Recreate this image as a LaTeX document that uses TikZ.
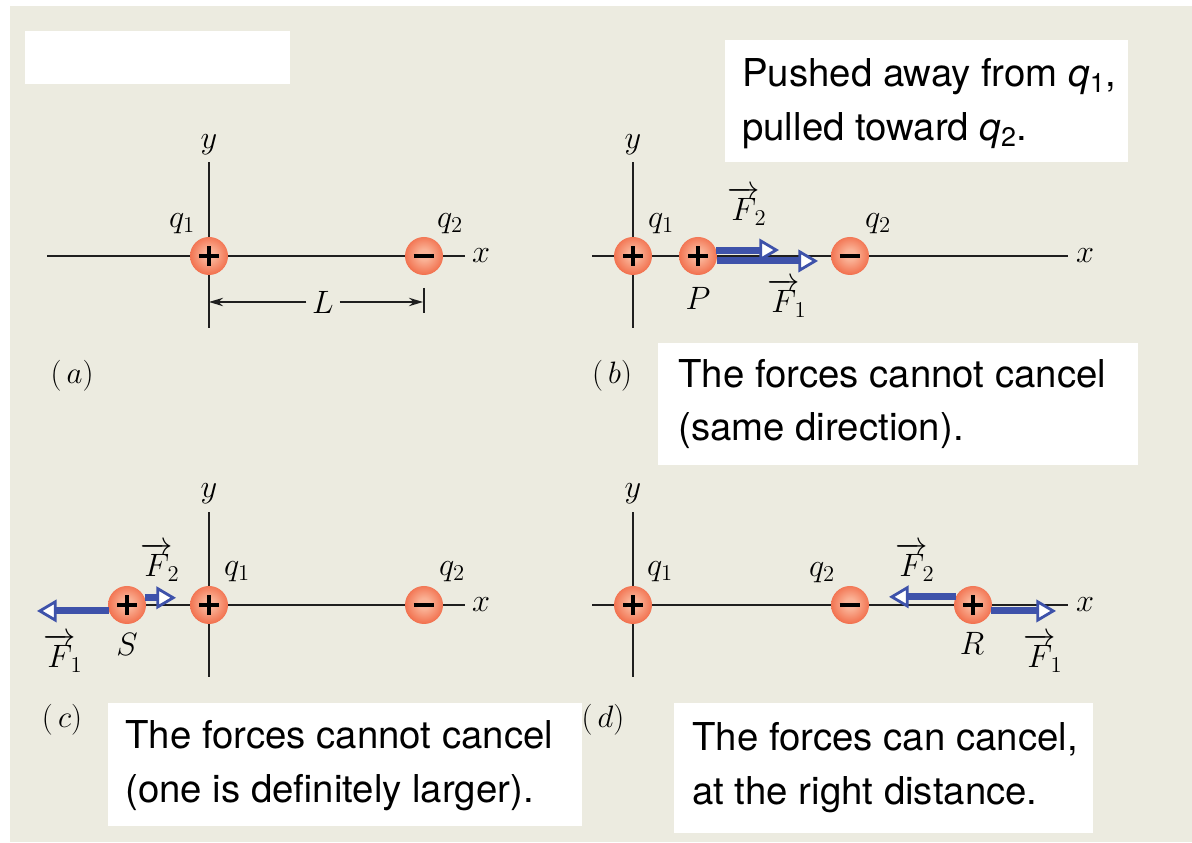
\RequirePackage{fix-cm}
\documentclass[tikz,border=0pt]{standalone}
\usepackage{fontspec}
\setsansfont{TeX Gyre Heros}
\usepackage{amsmath,xcolor}
\definecolor{pagebeige}{RGB}{236,235,224}
\definecolor{forceblue}{RGB}{62,82,170}
\definecolor{chargein}{RGB}{250,178,150}
\definecolor{chargemid}{RGB}{240,98,62}
\definecolor{chargeout}{RGB}{226,64,34}
\usetikzlibrary{arrows.meta,positioning}
\pgfdeclareradialshading{chargeball}{\pgfpoint{0bp}{2bp}}{color(0bp)=(chargein); color(7bp)=(chargein); color(30bp)=(chargemid); color(50bp)=(chargeout); color(100bp)=(chargeout)}

\begin{document}
\begin{tikzpicture}[
  axis/.style={line width=1.4pt, black!88},
  charge/.style={circle, minimum size=0.95cm, inner sep=0pt, shade, shading=chargeball},
  pluscharge/.style={charge, path picture={\draw[line width=2.2pt] (path picture bounding box.center) +(-0.25,0) -- +(0.25,0) (path picture bounding box.center) +(0,-0.25) -- +(0,0.25);}},
  minuscharge/.style={charge, path picture={\draw[line width=2.2pt] (path picture bounding box.center) +(-0.26,0) -- +(0.26,0);}},
  force/.style={forceblue, line width=5pt, -{Triangle[open, fill=white, length=14pt, width=16pt, line width=2pt]}},
  dimarrow/.style={line width=0.9pt, black!88, -{Stealth[length=10pt, width=6pt]}},
  lbl/.style={font=\fontsize{23}{27}\selectfont, inner sep=1pt},
  panel/.style={font=\fontsize{22}{26}\selectfont},
  boxtext/.style={font=\sffamily\fontsize{27.3}{38.3}\selectfont, align=left, anchor=west, inner sep=0pt}
]
  \useasboundingbox (0,0) rectangle (29.8,21.05);
  % Background
  \fill[white] (0,0) rectangle (29.8,21.05);
  \fill[pagebeige] (0.25,0) rectangle (29.8,20.9);
  \fill[white] (0.625,20.275) rectangle (7.25,18.95);

  % Panel (a)
  \draw[axis] (1.175,14.65) -- (11.625,14.65);
  \draw[axis] (5.225,12.85) -- (5.225,17.0);
  \node[lbl] (ya) at (5.225,17.425) {$y$};
  \node[lbl] (xa) at (12.025,14.65) {$x$};
  \node[pluscharge] (qa1) at (5.225,14.65) {};
  \node[minuscharge] (qa2) at (10.6,14.65) {};
  \node[lbl] (qa1lbl) at (4.55,15.45) {$q_1$};
  \node[lbl] (qa2lbl) at (11.25,15.45) {$q_2$};
  \coordinate (Lleft) at (5.225,13.5);
  \coordinate (Lright) at (10.575,13.5);
  \node[lbl, inner sep=4pt] (Ltxt) at (8.075,13.5) {$L$};
  \draw[dimarrow] (Ltxt) -- (Lleft);
  \draw[dimarrow] (Ltxt) -- (Lright);
  \draw[line width=0.9pt, black!88] (10.6,13.85) -- (10.6,13.225);
  \node[panel] (pa) at (1.8,11.65) {$(\,a)$};

  % Panel (b)
  \fill[white] (18.125,20.05) rectangle (28.2,17.0);
  \node[boxtext] (pushtxt) at (18.55,18.45) {Pushed away from \textit{q}\textsubscript{1},\\pulled toward \textit{q}\textsubscript{2}.};
  \draw[axis] (14.8,14.65) -- (26.7,14.65);
  \draw[axis] (15.825,12.85) -- (15.825,17.0);
  \node[lbl] (yb) at (15.825,17.425) {$y$};
  \node[lbl] (xb) at (27.125,14.65) {$x$};
  \node[pluscharge] (qb1) at (15.825,14.65) {};
  \node[pluscharge] (P) at (17.45,14.65) {};
  \node[minuscharge] (qb2) at (21.25,14.65) {};
  \node[lbl] (qb1lbl) at (16.525,15.45) {$q_1$};
  \node[lbl] (qb2lbl) at (21.95,15.45) {$q_2$};
  \node[lbl] (Plbl) at (17.45,13.6) {$P$};
  \coordinate (F2b) at (19.475,14.8);
  \coordinate (F1b) at (20.45,14.525);
  \draw[force] (P.18) -- (P.18 -| F2b);
  \draw[force] (P.345) -- (P.345 -| F1b);
  \node[lbl] (F2blbl) at (18.675,15.9) {$\overrightarrow{F}\!{}_{2}$};
  \node[lbl] (F1blbl) at (19.675,13.6) {$\overrightarrow{F}\!{}_{1}$};
  \node[panel] (pb) at (15.3,11.65) {$(\,b)$};
  \fill[white] (16.45,12.475) rectangle (28.45,9.425);
  \node[boxtext] (sametxt) at (16.95,10.95) {The forces cannot cancel\\(same direction).};

  % Panel (c)
  \draw[axis] (3.175,5.925) -- (11.625,5.925);
  \draw[axis] (5.225,4.125) -- (5.225,8.25);
  \node[lbl] (yc) at (5.225,8.7) {$y$};
  \node[lbl] (xc) at (12.025,5.925) {$x$};
  \node[pluscharge] (qc1) at (5.225,5.925) {};
  \node[minuscharge] (qc2) at (10.6,5.925) {};
  \node[pluscharge] (S) at (3.175,5.925) {};
  \node[lbl] (qc1lbl) at (5.925,6.75) {$q_1$};
  \node[lbl] (qc2lbl) at (11.3,6.75) {$q_2$};
  \node[lbl] (Slbl) at (3.175,4.95) {$S$};
  \coordinate (F1c) at (0.925,5.775);
  \coordinate (F2c) at (4.4,6.1);
  \draw[force] (S.198) -- (S.198 -| F1c);
  \draw[force] (S.22) -- (S.22 -| F2c);
  \node[lbl] (F1clbl) at (1.575,4.72) {$\overrightarrow{F}\!{}_{1}$};
  \node[lbl] (F2clbl) at (4.0,7.0) {$\overrightarrow{F}\!{}_{2}$};
  \node[panel] (pc) at (1.55,3.05) {$(\,c)$};
  \fill[white] (2.7,3.475) rectangle (14.55,0.4);
  \node[boxtext] (largertxt) at (3.125,1.9) {The forces cannot cancel\\(one is definitely larger).};

  % Panel (d)
  \draw[axis] (14.8,5.925) -- (26.7,5.925);
  \draw[axis] (15.825,4.125) -- (15.825,8.25);
  \node[lbl] (yd) at (15.825,8.7) {$y$};
  \node[lbl] (xd) at (27.125,5.925) {$x$};
  \node[pluscharge] (qd1) at (15.825,5.925) {};
  \node[minuscharge] (qd2) at (21.25,5.925) {};
  \node[pluscharge] (R) at (24.325,5.925) {};
  \node[lbl] (qd1lbl) at (16.5,6.75) {$q_1$};
  \node[lbl] (qd2lbl) at (20.55,6.725) {$q_2$};
  \node[lbl] (Rlbl) at (24.3,4.975) {$R$};
  \coordinate (F2d) at (22.225,6.125);
  \coordinate (F1d) at (26.4,5.775);
  \draw[force] (R.155) -- (R.155 -| F2d);
  \draw[force] (R.342) -- (R.342 -| F1d);
  \node[lbl] (F2dlbl) at (22.875,7.0) {$\overrightarrow{F}\!{}_{2}$};
  \node[lbl] (F1dlbl) at (26.075,4.72) {$\overrightarrow{F}\!{}_{1}$};
  \node[panel] (pd) at (15.075,3.05) {$(\,d)$};
  \fill[white] (16.85,3.475) rectangle (27.325,0.225);
  \node[boxtext] (distancetxt) at (17.3,1.85) {The forces can cancel,\\at the right distance.};
\end{tikzpicture}
\end{document}
